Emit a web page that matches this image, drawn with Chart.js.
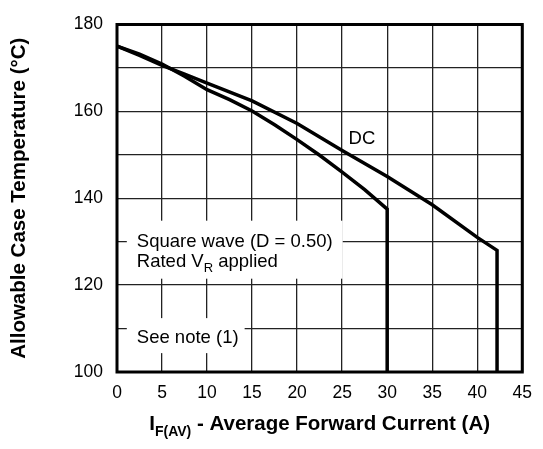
<!DOCTYPE html>
<html>
<head>
<meta charset="utf-8">
<script src="https://cdn.jsdelivr.net/npm/chart.js@4/dist/chart.umd.min.js"></script>
<style>
  html, body { margin: 0; padding: 0; background: #fff; }
  #wrap { width: 543px; height: 449px; }
</style>
</head>
<body>
<div id="wrap"><canvas id="caseTemp"></canvas></div>
<script>
// Curvas
const squareCurrent = [0, 2.5, 5, 7.5, 10, 12.5, 15, 17.5, 20, 22.5, 25, 27.5, 30, 30];
const squareTemp = [175, 173.2, 170.9, 168.1, 165, 162.7, 160.1, 156.9, 153.5, 149.9, 146, 142, 137.5, 100];
const dcCurrent = [0, 2.5, 5, 7.5, 10, 15, 20, 25, 30, 35, 40, 42.2, 42.2];
const dcTemp = [175, 172.9, 170.6, 168.6, 166.5, 162.4, 157.2, 151, 145, 138.5, 131, 128, 100];

const xTicks = [0, 5, 10, 15, 20, 25, 30, 35, 40, 45];
const yTicks = [100, 120, 140, 160, 180];

const toPoints = (xs, ys) => xs.map((x, i) => ({ x: x, y: ys[i] }));

const FONT = '"Liberation Sans", Arial, Helvetica, sans-serif';

// Textos, caixas brancas, moldura e títulos
const notes = {
    id: 'notes',
    afterDatasetsDraw(chart) {
        const c = chart.ctx;
        const xs = chart.scales.x, ys = chart.scales.y;
        c.save();
        c.textBaseline = 'middle';
        c.textAlign = 'left';

        // caixa "Square wave"
        const tx = xs.getPixelForValue(2.2);
        const y1 = ys.getPixelForValue(130);
        const y2 = ys.getPixelForValue(125.3);
        c.font = '18.5px ' + FONT;
        const w1 = c.measureText('Square wave (D = 0.50)').width;
        c.fillStyle = '#fff';
        c.fillRect(tx - 10, y1 - 21, w1 + 20, 58);
        c.fillStyle = '#000';
        c.fillText('Square wave (D = 0.50)', tx, y1);
        c.fillText('Rated V', tx, y2);
        const wv = c.measureText('Rated V').width;
        c.font = '13px ' + FONT;
        c.fillText('R', tx + wv, y2 + 6);
        const wr = c.measureText('R').width;
        c.font = '18.5px ' + FONT;
        c.fillText(' applied', tx + wv + wr, y2);

        // caixa "See note"
        const y3 = ys.getPixelForValue(107.8);
        const w3 = c.measureText('See note (1)').width;
        c.fillStyle = '#fff';
        c.fillRect(tx - 10, y3 - 20, w3 + 16, 35);
        c.fillStyle = '#000';
        c.fillText('See note (1)', tx, y3);

        // rótulo DC
        c.textAlign = 'center';
        c.fillText('DC', xs.getPixelForValue(27.2), ys.getPixelForValue(153.6));

        // moldura
        const a = chart.chartArea;
        c.lineWidth = 3;
        c.strokeStyle = '#000';
        c.strokeRect(a.left, a.top, a.right - a.left, a.bottom - a.top);

        // título do eixo x com subscrito
        c.textAlign = 'left';
        c.textBaseline = 'alphabetic';
        const main = ' - Average Forward Current (A)';
        c.font = 'bold 20.5px ' + FONT;
        const wI = c.measureText('I').width;
        const wMain = c.measureText(main).width;
        c.font = 'bold 14px ' + FONT;
        const wSub = c.measureText('F(AV)').width;
        const total = wI + wSub + wMain;
        const cx = (a.left + a.right) / 2;
        const x0 = cx - total / 2;
        const base = 430;
        c.font = 'bold 20.5px ' + FONT;
        c.fillText('I', x0, base);
        c.font = 'bold 14px ' + FONT;
        c.fillText('F(AV)', x0 + wI, base + 6);
        c.font = 'bold 20.5px ' + FONT;
        c.fillText(main, x0 + wI + wSub, base);

        // título do eixo y
        c.translate(19, (a.top + a.bottom) / 2);
        c.rotate(-Math.PI / 2);
        c.textAlign = 'center';
        c.textBaseline = 'middle';
        c.fillText('Allowable Case Temperature (°C)', 0, 0);
        c.restore();
    }
};

const config = {
    type: 'line',
    data: {
        datasets: [
            {
                label: 'Square wave',
                data: toPoints(squareCurrent, squareTemp),
                borderColor: '#000',
                borderWidth: 3.5,
                pointRadius: 0,
                tension: 0,
                fill: false
            },
            {
                label: 'DC',
                data: toPoints(dcCurrent, dcTemp),
                borderColor: '#000',
                borderWidth: 3.5,
                pointRadius: 0,
                tension: 0,
                fill: false
            }
        ]
    },
    options: {
        responsive: true,
        maintainAspectRatio: false,
        animation: false,
        layout: { padding: { top: 15, right: 11, left: 0, bottom: 0 } },
        plugins: {
            legend: { display: false },
            tooltip: { enabled: false }
        },
        scales: {
            x: {
                type: 'linear',
                min: 0,
                max: 45,
                afterFit: s => { s.height = 77; },
                afterBuildTicks: s => { s.ticks = xTicks.map(v => ({ value: v })); },
                ticks: {
                    color: '#000',
                    padding: 11,
                    font: { family: FONT, size: 17.5 }
                },
                grid: { color: '#222', lineWidth: 1.3, drawTicks: false },
                border: { display: false }
            },
            y: {
                min: 100,
                max: 180,
                afterFit: s => { s.width = 117; },
                afterBuildTicks: s => {
                    const t = [];
                    for (let v = 100; v <= 180; v += 10) t.push({ value: v });
                    s.ticks = t;
                },
                ticks: {
                    color: '#000',
                    padding: 14,
                    font: { family: FONT, size: 17.5 },
                    callback: v => (yTicks.includes(v) ? String(v) : '')
                },
                grid: { color: '#222', lineWidth: 1.3, drawTicks: false },
                border: { display: false }
            }
        }
    },
    plugins: [notes]
};

new Chart(document.getElementById('caseTemp'), config);
</script>
</body>
</html>
